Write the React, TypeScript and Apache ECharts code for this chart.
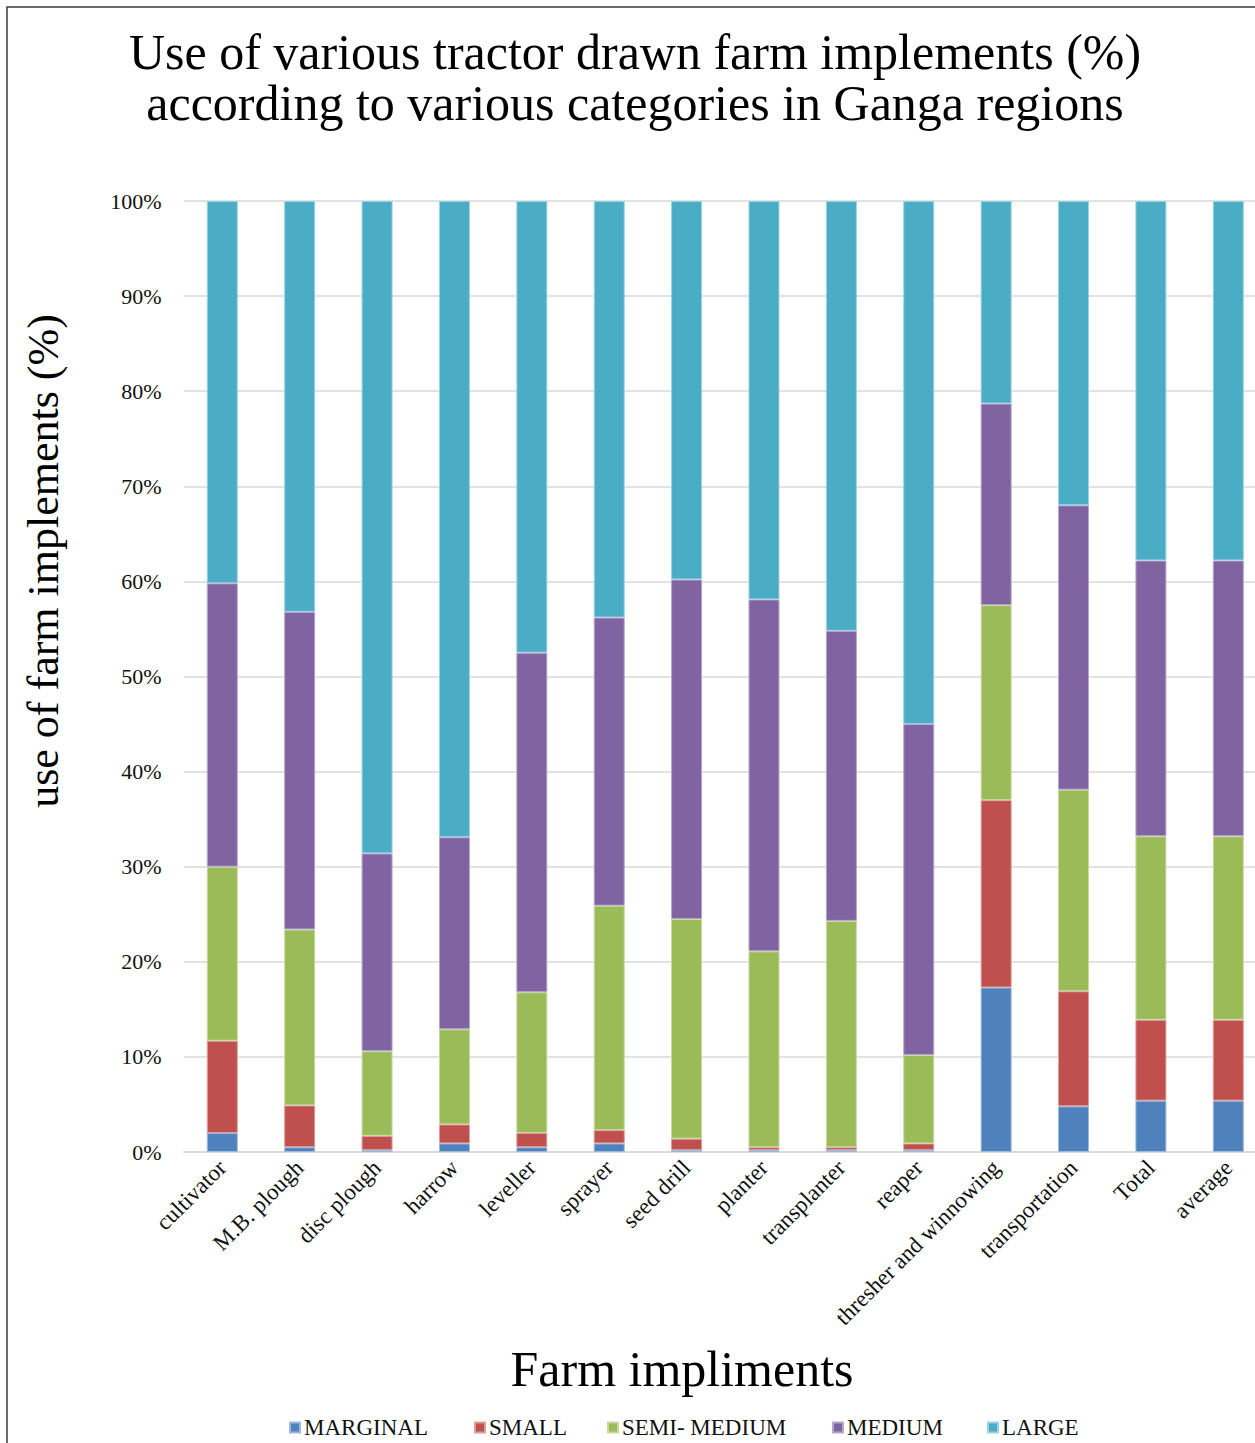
import React, { useEffect, useRef } from "react";
import * as echarts from "echarts";

const categories = [
  "cultivator",
  "M.B. plough",
  "disc plough",
  "harrow",
  "leveller",
  "sprayer",
  "seed drill",
  "planter",
  "transplanter",
  "reaper",
  "thresher and winnowing",
  "transportation",
  "Total",
  "average",
];

const seriesNames = ["MARGINAL", "SMALL", "SEMI- MEDIUM", "MEDIUM", "LARGE"];

const marginal = [2.0, 0.5, 0.2, 0.9, 0.5, 0.9, 0.2, 0.2, 0.2, 0.2, 17.3, 4.8, 5.4, 5.4];
const small = [9.7, 4.4, 1.5, 2.0, 1.5, 1.4, 1.2, 0.3, 0.3, 0.7, 19.7, 12.1, 8.5, 8.5];
const semiMedium = [18.3, 18.5, 8.9, 10.0, 14.8, 23.6, 23.1, 20.6, 23.8, 9.3, 20.5, 21.2, 19.3, 19.3];
const medium = [29.8, 33.4, 20.8, 20.2, 35.7, 30.3, 35.7, 37.0, 30.5, 34.8, 21.2, 29.9, 29.0, 29.0];
const large = [40.2, 43.2, 68.6, 66.9, 47.5, 43.8, 39.8, 41.9, 45.2, 55.0, 21.3, 32.0, 37.8, 37.8];

const colors = ["#4F81BD", "#C0504D", "#9BBB59", "#8064A2", "#4BACC6"];
const borders = ["#9db9dc", "#dc9d9b", "#c6dba3", "#b7a6cc", "#9bd3e2"];

const titleLines = [
  "Use of various tractor drawn farm implements (%)",
  "according to various categories in Ganga regions",
];
const yAxisName = "use of farm implements (%)";
const xAxisName = "Farm impliments";

const FONT = "'Liberation Serif', 'Times New Roman', serif";

export default function App() {
  const ref = useRef<HTMLDivElement>(null);

  useEffect(() => {
    document.body.style.margin = "0";
    if (!ref.current) return;
    const chart = echarts.init(ref.current, null, { renderer: "svg" });
    const allData = [marginal, small, semiMedium, medium, large];
    const legendLeft = [287, 472, 605, 830, 985];

    chart.setOption({
      animation: false,
      backgroundColor: "#ffffff",
      grid: {
        left: 183.6,
        right: -12,
        top: 201,
        bottom: 291,
        containLabel: false,
        outerBoundsMode: "none",
      },
      legend: seriesNames.map((n, i) => ({
        data: [n],
        left: legendLeft[i],
        top: 1414,
        icon: "rect",
        itemWidth: 10,
        itemHeight: 10,
        itemGap: 0,
        padding: [2, 2, 2, 2],
        textStyle: { fontFamily: FONT, fontSize: 23, color: "#111", padding: [0, 0, 0, -1] },
      })),
      xAxis: {
        type: "category",
        data: categories,
        axisLine: { lineStyle: { color: "#d9d9d9", width: 1.5 } },
        axisTick: { show: false },
        axisLabel: {
          rotate: 45,
          interval: 0,
          margin: 12,
          fontFamily: FONT,
          fontSize: 23,
          color: "#111",
        },
      },
      yAxis: {
        type: "value",
        min: 0,
        max: 100,
        interval: 10,
        axisLine: { show: false },
        axisTick: { show: false },
        splitLine: { lineStyle: { color: "#d9d9d9", width: 1.5 } },
        axisLabel: {
          formatter: "{value}%",
          margin: 22,
          fontFamily: FONT,
          fontSize: 22,
          color: "#111",
        },
      },
      graphic: [
        {
          type: "rect",
          shape: { x: 7, y: 7, width: 1400, height: 1600 },
          style: { fill: "none", stroke: "#3a3a3a", lineWidth: 1.5 },
          silent: true,
        },
        {
          type: "text",
          x: 635,
          y: 52,
          style: {
            text: titleLines[0],
            align: "center",
            verticalAlign: "middle",
            font: `50px ${FONT}`,
            fill: "#000",
          },
        },
        {
          type: "text",
          x: 635,
          y: 103,
          style: {
            text: titleLines[1],
            align: "center",
            verticalAlign: "middle",
            font: `50px ${FONT}`,
            fill: "#000",
          },
        },
        {
          type: "text",
          x: 43,
          y: 561,
          rotation: Math.PI / 2,
          style: {
            text: yAxisName,
            align: "center",
            verticalAlign: "middle",
            font: `44px ${FONT}`,
            fill: "#000",
          },
        },
        {
          type: "text",
          x: 682,
          y: 1369,
          style: {
            text: xAxisName,
            align: "center",
            verticalAlign: "middle",
            font: `50px ${FONT}`,
            fill: "#000",
          },
        },
      ],
      series: seriesNames.map((name, i) => ({
        name,
        type: "bar",
        stack: "total",
        barWidth: 31,
        data: allData[i],
        itemStyle: { color: colors[i], borderColor: borders[i], borderWidth: 1 },
      })),
    });

    return () => {
      chart.dispose();
    };
  }, []);

  return <div ref={ref} style={{ width: 1255, height: 1443 }} />;
}
